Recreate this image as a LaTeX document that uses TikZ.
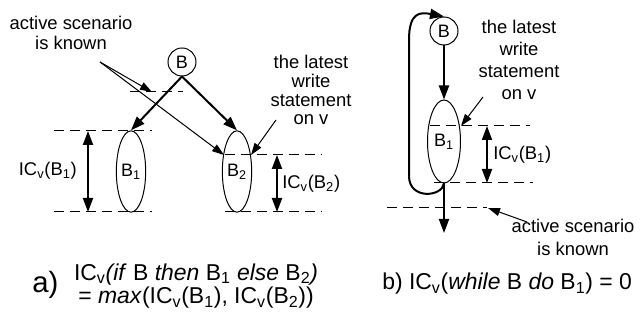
\documentclass[tikz,border=0pt]{standalone}
\usepackage{fontspec}
\setmainfont{Liberation Sans}
\usetikzlibrary{arrows.meta, shapes.geometric}
\newcommand{\lowidx}[1]{\textsubscript{#1}}

\begin{document}
\begin{tikzpicture}[x=0.75pt, y=-0.75pt,
  cond/.style={circle, draw, line width=0.75pt, minimum size=21pt, inner sep=0pt, font=\fontsize{13.5}{16}\selectfont},
  blk/.style={ellipse, draw, line width=0.75pt, minimum width=22pt, minimum height=61pt, inner sep=0pt, font=\fontsize{13.5}{16}\selectfont},
  flow/.style={-{Triangle[length=10.5pt,width=7.5pt]}, line width=1.5pt},
  icspan/.style={{Triangle[length=10.5pt,width=7.5pt]}-{Triangle[length=10.5pt,width=7.5pt]}, line width=1.5pt},
  hint/.style={-{Triangle[length=9pt,width=6pt]}, line width=0.75pt},
  lvl/.style={dash pattern=on 7.5pt off 4.5pt, line width=0.75pt},
  txt/.style={inner sep=0pt, align=center, font=\fontsize{13.8}{15}\selectfont},
  capt/.style={inner sep=0pt, align=center, font=\fontsize{17.2}{17.8}\selectfont}
]
\useasboundingbox (0,0) rectangle (644,323);

% a) if B then B1 else B2
\node[cond] (Ba) at (182,62) {B};
\node[blk] (B1a) at (131,171.5) {B\lowidx{1}};
\node[blk] (B2a) at (237,171.5) {B\lowidx{2}};

\draw[lvl] (130,92) -- (183,92);
\draw[lvl] (54,131) -- (152,131);
\draw[lvl] (54,212) -- (152,212);
\draw[lvl] (225,155) -- (322,155);
\draw[lvl] (225,212) -- (322,212);

\coordinate (seena) at (100,62);
\coordinate (brka) at (152,92);
\coordinate (w2a) at (224,155);
\coordinate (e2a) at (251,155);
\coordinate (lwa) at (276,120);
\coordinate (h1t) at (88,131);
\coordinate (h1b) at (88,212);
\coordinate (h2t) at (277,155);
\coordinate (h2b) at (277,212);

\draw[flow] (Ba.south) -- (B1a.north);
\draw[flow] (Ba.south) -- (B2a.north);
\draw[hint] (seena) -- (brka);
\draw[hint] (seena) -- (w2a);
\draw[hint] (lwa) -- (e2a);
\draw[icspan] (h1t) -- (h1b);
\draw[icspan] (h2t) -- (h2b);

\node[txt] (scena) at (71,33) {active scenario\\is known};
\node[txt, font=\fontsize{13.8}{14.2}\selectfont] (lasta) at (311,90) {the latest\\write\\statement\\on v};
\node[txt, anchor=east] (ic1a) at (77,171) {IC\lowidx{v}(B\lowidx{1})};
\node[txt, anchor=west] (ic2a) at (282,184) {IC\lowidx{v}(B\lowidx{2})};

% b) while B do B1
\node[cond] (Bb) at (444,31) {B};
\node[blk, minimum width=24.75pt, minimum height=62.25pt] (B1b) at (444,141.5) {B\lowidx{1}};

\draw[lvl] (430,126) -- (530,126);
\draw[lvl] (434,183) -- (533,183);
\draw[lvl] (387,208) -- (487,208);

\coordinate (exitb) at (444,233);
\coordinate (h3t) at (487,126);
\coordinate (h3b) at (487,183);
\coordinate (lwb) at (483,97);
\coordinate (e1b) at (461,126);
\coordinate (seenb) at (527,222);
\coordinate (brkb) at (488,208);

\draw[flow] (Bb) -- (B1b);
\draw[flow] (B1b.south) -- (exitb);
\draw[flow] (B1b.south) .. controls (442,197) and (409,200) .. (409,176) -- (409,40) .. controls (409,12) and (420,12) .. (Bb.north);
\draw[icspan] (h3t) -- (h3b);
\draw[hint] (lwb) -- (e1b);
\draw[hint] (seenb) -- (brkb);

\node[txt, font=\fontsize{13.8}{16.7}\selectfont] (lastb) at (519,60) {the latest\\write\\statement\\on v};
\node[txt, anchor=west] (icb) at (493,155) {IC\lowidx{v}(B\lowidx{1})};
\node[txt, font=\fontsize{13.8}{17.2}\selectfont] (scenb) at (573,237) {active scenario\\is known};

% captions
\node[capt, font=\fontsize{22}{22}\selectfont, anchor=base west] (capa) at (32,293) {a)};
\node[capt] (capaf) at (196,286) {IC\lowidx{v}\textit{(if} B \textit{then} B\lowidx{1} \textit{else} B\lowidx{2}\textit{)}\\= \textit{max}(IC\lowidx{v}(B\lowidx{1}), IC\lowidx{v}(B\lowidx{2}))};
\node[capt, anchor=base west] (capb) at (382,290) {b) IC\lowidx{v}(\textit{while} B \textit{do} B\lowidx{1}) = 0};
\end{tikzpicture}
\end{document}
